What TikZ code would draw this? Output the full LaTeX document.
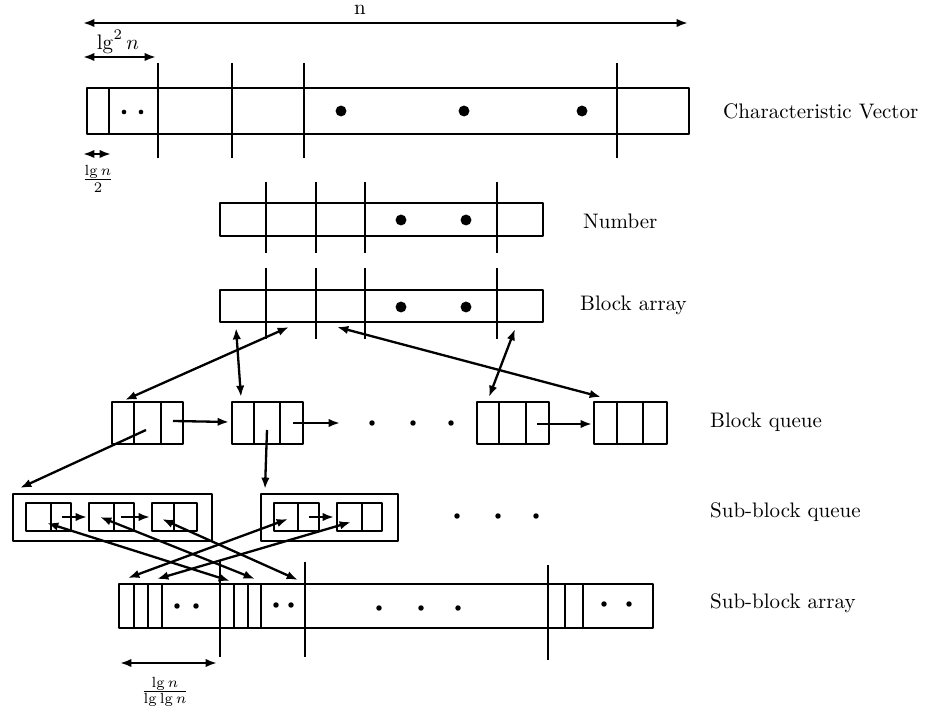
\documentclass[tikz,border=0pt]{standalone}
\usetikzlibrary{arrows.meta}
\begin{document}
\begin{tikzpicture}[x=0.476pt,y=-0.476pt,line width=1.1pt,line join=round,
	>={Latex[length=5.4pt,width=4pt]},
	lab/.style={anchor=west,inner sep=0pt}]
	\def\R{2.6pt}%big dots
	\def\r{1.1pt}%small dots
	\def\s{1.3pt}%ellipsis dots
	\useasboundingbox (0,0) rectangle (941,712);
	\path
	%========length arrows
	(83,23) coordinate (n1) (688,23) coordinate (n2)
	(83,57) coordinate (sq1) (156,57) coordinate (sq2)
	(83,154) coordinate (h1) (111,154) coordinate (h2)
	(120,663) coordinate (f1) (217,663) coordinate (f2)
	%========block array <-> block queue
	(289,327) coordinate (ba1) (125,400) coordinate (bq1)
	(236,328) coordinate (ba2) (241,397) coordinate (bq2)
	(337,327) coordinate (ba3) (601,397) coordinate (bq4)
	(515,329) coordinate (ba4) (489,397) coordinate (bq3)
	%========block queue links
	(173,421) coordinate (q1) (229,422) coordinate (q2)
	(293,423) coordinate (q2n) (340,423) coordinate (qd)
	(537,424) coordinate (q3) (592,424) coordinate (q4)
	%========block queue -> sub-block queue
	(146,430) coordinate (q1s) (20,488) coordinate (g1)
	(267,430) coordinate (q2s) (265,489) coordinate (g2)
	%========sub-block queue links
	(62,517) coordinate (a1) (87,517) coordinate (b0)
	(121,517) coordinate (b1) (150,517) coordinate (c0)
	(309,517) coordinate (d1) (334,517) coordinate (e0)
	%========sub-block queue <-> sub-block array
	(47,523) coordinate (sa) (230,581) coordinate (ta)
	(100,517) coordinate (sb) (255,579) coordinate (tb)
	(162,519) coordinate (sc) (298,580) coordinate (tc)
	(288,519) coordinate (sd) (128,578) coordinate (td)
	(351,522) coordinate (se) (157,579) coordinate (te)
	;
	%========characteristic vector
	\draw (87,88) rectangle (689,134) (109,88)--(109,134)
	(158,63)--(158,158) (232,63)--(232,158) (304,63)--(304,158) (617,63)--(617,158);
	\fill (124,112) circle (\r) (141,112) circle (\r)
	(341,111) circle (\R) (464,111) circle (\R) (582,111) circle (\R);
	%========number
	\draw (220,203) rectangle (543,236)
	(266,182)--(266,253) (316,182)--(316,253) (365,182)--(365,253) (497,182)--(497,253);
	\fill (401,220) circle (\R) (466,220) circle (\R);
	%========block array
	\draw (220,290) rectangle (543,322)
	(266,268)--(266,339) (316,268)--(316,339) (365,268)--(365,339) (497,268)--(497,339);
	\fill (401,307) circle (\R) (466,307) circle (\R);
	%========block queue
	\draw (112,402) rectangle (183,444) (134,402)--(134,444) (161,402)--(161,444)
	(232,402) rectangle (303,444) (254,402)--(254,444) (280,402)--(280,444)
	(477,402) rectangle (549,444) (499,402)--(499,444) (526,402)--(526,444)
	(594,402) rectangle (667,444) (617,402)--(617,444) (643,402)--(643,444);
	\fill (372,423) circle (\s) (413,423) circle (\s) (451,423) circle (\s);
	%========sub-block queue
	\draw (13,494) rectangle (212,541)
	(26,503) rectangle (71,531) (51,503)--(51,531)
	(89,503) rectangle (134,531) (114,503)--(114,531)
	(152,503) rectangle (197,531) (174,503)--(174,531)
	(261,494) rectangle (398,541)
	(274,503) rectangle (319,531) (298,503)--(298,531)
	(337,503) rectangle (382,531) (362,503)--(362,531);
	\fill (457,516) circle (\s) (498,516) circle (\s) (536,516) circle (\s);
	%========sub-block array
	\draw (119,584) rectangle (653,628)
	(134,584)--(134,628) (148,584)--(148,628) (162,584)--(162,628)
	(234,584)--(234,628) (248,584)--(248,628) (261,584)--(261,628)
	(565,584)--(565,628) (583,584)--(583,628)
	(220,560)--(220,657) (305,562)--(305,657) (548,565)--(548,660);
	\fill (177,606) circle (\s) (196,606) circle (\s) (276,605) circle (\s) (291,605) circle (\s)
	(379,608) circle (\s) (421,608) circle (\s) (458,608) circle (\s)
	(604,604) circle (\s) (629,604) circle (\s);
	%========arrows
	\draw[<->] (n1)--(n2);
	\draw[<->] (sq1)--(sq2);
	\draw[<->] (h1)--(h2);
	\draw[<->] (f1)--(f2);
	\draw[<->] (ba1)--(bq1);
	\draw[<->] (ba2)--(bq2);
	\draw[<->] (ba3)--(bq4);
	\draw[<->] (ba4)--(bq3);
	\draw[->] (q1)--(q2);
	\draw[->] (q2n)--(qd);
	\draw[->] (q3)--(q4);
	\draw[->] (q1s)--(g1);
	\draw[->] (q2s)--(g2);
	\draw[->] (a1)--(b0);
	\draw[->] (b1)--(c0);
	\draw[->] (d1)--(e0);
	\draw[<->] (sa)--(ta);
	\draw[<->] (sb)--(tb);
	\draw[<->] (sc)--(tc);
	\draw[<->] (sd)--(td);
	\draw[<->] (se)--(te);
	%========labels
	\node (nlab) at (360,10) {n};
	\node (sqlab) at (118,42) {$\lg^2 n$};
	\node (hlab) at (98,179) {$\frac{\lg n}{2}$};
	\node (flab) at (165,692) {$\frac{\lg n}{\lg\lg n}$};
	\node[lab] (cvlab) at (722,111) {Characteristic Vector};
	\node[lab] (numlab) at (582,221) {Number};
	\node[lab] (balab) at (579,305) {Block array};
	\node[lab] (bqlab) at (709,422) {Block queue};
	\node[lab] (sqqlab) at (709,512) {Sub-block queue};
	\node[lab] (salab) at (709,603) {Sub-block array};
\end{tikzpicture}
\end{document}
